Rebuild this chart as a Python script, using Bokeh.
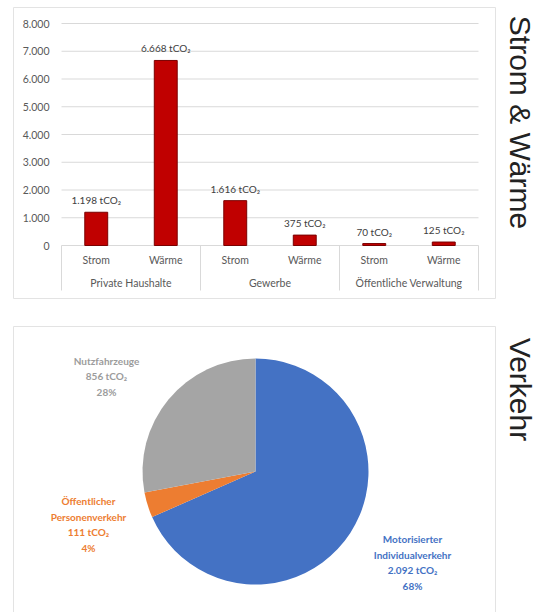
import numpy as np
from bokeh.plotting import figure
from bokeh.models import (ColumnDataSource, Range1d, FixedTicker, LinearAxis, Label)
from bokeh.layouts import column
from bokeh.embed import file_html
from bokeh.resources import INLINE
from bokeh.core.properties import value

# ---------------- data ----------------
groups = ["Private Haushalte", "Private Haushalte", "Gewerbe", "Gewerbe",
          "Öffentliche Verwaltung", "Öffentliche Verwaltung"]
subcats = ["Strom", "Wärme", "Strom", "Wärme", "Strom", "Wärme"]
emissions = [1198, 6668, 1616, 375, 70, 125]
y_ticks = [0, 1000, 2000, 3000, 4000, 5000, 6000, 7000, 8000]
top_title = "Strom & Wärme"

pie_names = ["Motorisierter\nIndividualverkehr", "Öffentlicher\nPersonenverkehr", "Nutzfahrzeuge"]
pie_values = [2092, 111, 856]
pie_pcts = [68, 4, 28]
pie_colors = ["#4472c4", "#ed7d31", "#a5a5a5"]
pie_text_colors = ["#4472c4", "#ed7d31", "#9c9c9c"]
bottom_title = "Verkehr"


def de(n):
    return f"{n:,}".replace(",", ".")


FONT = "Lato"
TFONT = "Liberation Sans"
W = 547
H1, H2 = 310, 302
GRID = "#d9d9d9"
BOX = "#e3e3e3"
TXT = "#595959"

# ---------------- bar chart (frame = whole canvas) ----------------
X0, SLOT = 61, 417 / len(subcats)     # pixel of first slot, pixels per slot
Y0, PXU = 245, 222 / 8000.0           # pixel of value 0, pixels per unit


def xd(px):
    return (px - X0) / SLOT


def yd(py):
    return (Y0 - py) / PXU


p = figure(width=W, height=H1, x_range=Range1d(xd(0), xd(W)),
           y_range=Range1d(yd(H1), yd(0)), x_axis_location=None,
           y_axis_location=None, toolbar_location=None, output_backend="svg",
           min_border_left=0, min_border_right=0, min_border_top=0,
           min_border_bottom=0)
p.outline_line_color = None
p.grid.visible = False

n = len(subcats)
xpos = [i + 0.5 for i in range(n)]
group_names = list(dict.fromkeys(groups))
bounds = [0]
for g in group_names:
    bounds.append(bounds[-1] + groups.count(g))
group_centers = [(a + b) / 2 for a, b in zip(bounds[:-1], bounds[1:])]

# grid lines over the category span
p.segment(x0=[bounds[0]] * len(y_ticks), x1=[bounds[-1]] * len(y_ticks),
          y0=y_ticks, y1=y_ticks, line_color=GRID, line_width=1)
# group separators
p.segment(x0=bounds, x1=bounds, y0=[0] * len(bounds),
          y1=[yd(290)] * len(bounds), line_color=GRID, line_width=1)

src = ColumnDataSource(dict(x=xpos, top=emissions,
                            label=[f"{de(v)} tCO₂" for v in emissions]))
p.vbar(x="x", top="top", width=0.33, source=src, fill_color="#c00000",
       line_color="#7a0000", line_width=1)
p.text(x="x", y="top", text="label", source=src, text_align="center",
       text_baseline="bottom", y_offset=-6, text_font=value(FONT),
       text_font_size="10px", text_color="#404040")


def style_axis(ax, standoff):
    ax.axis_line_color = None
    ax.major_tick_line_color = None
    ax.minor_tick_line_color = None
    ax.major_tick_out = 0
    ax.major_tick_in = 0
    ax.major_label_standoff = standoff
    ax.major_label_text_font = FONT
    ax.major_label_text_font_size = "10.5px"
    ax.major_label_text_color = TXT


yax = LinearAxis(fixed_location=0, ticker=FixedTicker(ticks=y_ticks),
                 major_label_overrides={t: de(t) for t in y_ticks})
style_axis(yax, 12)
p.add_layout(yax, "left")

sub_ax = LinearAxis(fixed_location=0, ticker=FixedTicker(ticks=xpos),
                    major_label_overrides={x: s for x, s in zip(xpos, subcats)})
style_axis(sub_ax, 8)
p.add_layout(sub_ax, "below")

grp_ax = LinearAxis(fixed_location=0, ticker=FixedTicker(ticks=group_centers),
                    major_label_overrides={x: g for x, g in zip(group_centers, group_names)})
style_axis(grp_ax, 31)
p.add_layout(grp_ax, "below")

p.quad(left=[xd(13)], right=[xd(495)], top=[yd(7)], bottom=[yd(298)],
       fill_color=None, line_color=BOX, line_width=1)
p.add_layout(Label(x=xd(520), y=yd(122), text=top_title, angle=-np.pi / 2,
                   text_align="center", text_baseline="middle",
                   text_font=TFONT, text_font_size="30px", text_color="#222222"))

# ---------------- pie chart (frame = whole canvas, 1 unit = 1 px) ----------------
q = figure(width=W, height=H2, x_range=Range1d(0, W), y_range=Range1d(0, H2),
           x_axis_location=None, y_axis_location=None,
           toolbar_location=None, output_backend="svg",
           min_border_left=0, min_border_right=0, min_border_top=0,
           min_border_bottom=0)
q.grid.visible = False
q.outline_line_color = None

cx, cy, r = 255, 141, 113
vals = np.array(pie_values, dtype=float)
frac = vals / vals.sum()
cum = np.concatenate([[0], np.cumsum(frac)])
starts = np.pi / 2 - 2 * np.pi * cum[:-1]
ends = np.pi / 2 - 2 * np.pi * cum[1:]
q.wedge(x=cx, y=cy, radius=r, start_angle=starts, end_angle=ends,
        direction="clock", fill_color=pie_colors, line_color=None)

label_x = [412, 88, 106]
label_y = [50, 88, 236]
q.text(x=label_x, y=label_y,
       text=[f"{nm}\n{de(v)} tCO₂\n{pc}%" for nm, v, pc in zip(pie_names, pie_values, pie_pcts)],
       text_align="center", text_baseline="middle", text_font=value(FONT),
       text_font_style="bold", text_font_size="10px", text_line_height=1.33,
       text_color=pie_text_colors)

q.quad(left=[13], right=[495], top=[H2 - 16], bottom=[-5], fill_color=None,
       line_color=BOX, line_width=1)
q.add_layout(Label(x=520, y=H2 - 79, text=bottom_title, angle=-np.pi / 2,
                   text_align="center", text_baseline="middle",
                   text_font=TFONT, text_font_size="30px", text_color="#222222"))

layout = column(p, q, spacing=0)
open("out.html", "w").write(file_html(layout, INLINE))
